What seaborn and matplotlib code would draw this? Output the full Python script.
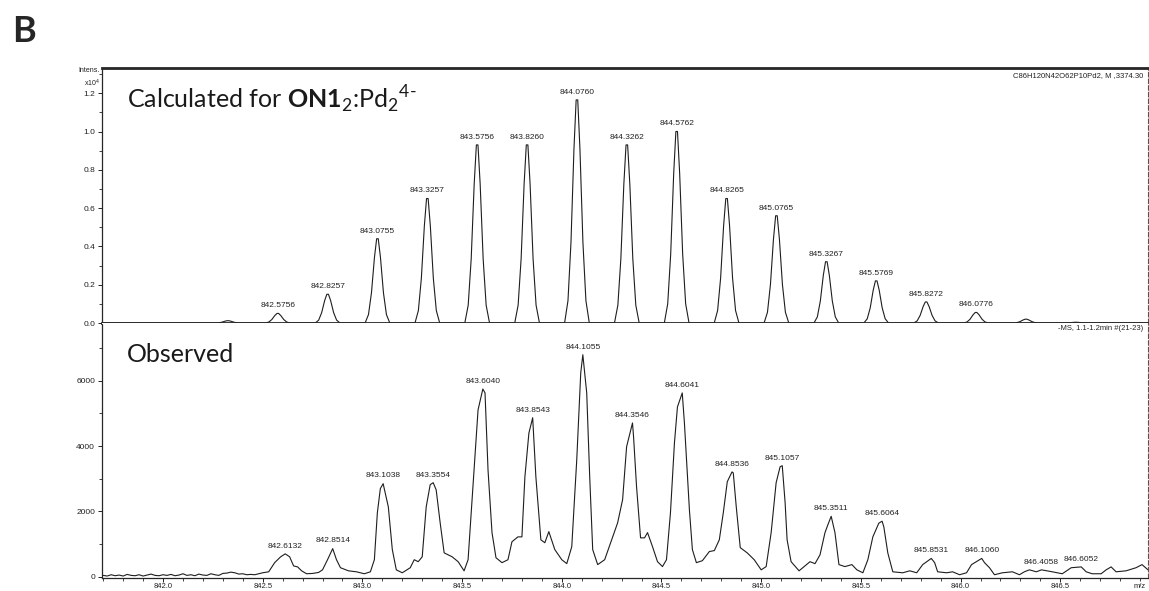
import pandas as pd
import matplotlib
matplotlib.use("Agg")
import matplotlib.pyplot as plt
import seaborn as sns
from matplotlib.ticker import MultipleLocator

# calculated isotope pattern (intensity in 1e4)
calc_mz = [842.3254, 842.5756, 842.8257, 843.0755, 843.3257, 843.5756, 843.8260, 844.0760, 844.3262,
           844.5762, 844.8265, 845.0765, 845.3267, 845.5769, 845.8272, 846.0776, 846.3280, 846.5780]
calc_int = [0.012, 0.05, 0.15, 0.44, 0.65, 0.93, 0.93, 1.165, 0.93,
            1.0, 0.65, 0.56, 0.32, 0.22, 0.11, 0.055, 0.02, 0.004]
calc_labels = ["", "842.5756", "842.8257", "843.0755", "843.3257", "843.5756", "843.8260", "844.0760",
               "844.3262", "844.5762", "844.8265", "845.0765", "845.3267", "845.5769", "845.8272",
               "846.0776", "", ""]
shape_dx = [-0.062, -0.045, -0.03, -0.015, -0.004, 0.004, 0.015, 0.03, 0.045, 0.062]
shape_fr = [0.0, 0.10, 0.36, 0.78, 1.0, 1.0, 0.78, 0.36, 0.10, 0.0]

# observed profile spectrum
obs_mz = [841.70, 841.72, 841.74, 841.76, 841.78, 841.80, 841.82, 841.84, 841.86, 841.88,
          841.90, 841.92, 841.94, 841.96, 841.98, 842.00, 842.02, 842.04, 842.06, 842.08,
          842.10, 842.12, 842.14, 842.16, 842.18, 842.20, 842.22, 842.24, 842.26, 842.28,
          842.30, 842.32, 842.34, 842.36, 842.38, 842.40, 842.42, 842.44, 842.46, 842.48,
          842.50, 842.53, 842.56, 842.59, 842.613, 842.635, 842.655, 842.675, 842.695, 842.72,
          842.75, 842.78, 842.80, 842.825, 842.851, 842.87, 842.89, 842.93, 842.97, 843.01,
          843.04, 843.06, 843.075, 843.09, 843.104, 843.13, 843.15, 843.17, 843.20, 843.24,
          843.26, 843.28, 843.30, 843.32, 843.34, 843.355, 843.37, 843.39, 843.41, 843.45,
          843.48, 843.51, 843.53, 843.55, 843.58, 843.604, 843.615, 843.63, 843.65, 843.67,
          843.70, 843.73, 843.75, 843.78, 843.80, 843.815, 843.835, 843.854, 843.87, 843.895,
          843.915, 843.935, 843.965, 844.00, 844.025, 844.05, 844.075, 844.095, 844.1055, 844.125,
          844.14, 844.155, 844.18, 844.215, 844.25, 844.28, 844.305, 844.325, 844.3546, 844.36,
          844.375, 844.395, 844.415, 844.43, 844.455, 844.48, 844.505, 844.525, 844.545, 844.565,
          844.58, 844.6041, 844.615, 844.64, 844.655, 844.675, 844.705, 844.74, 844.765, 844.79,
          844.81, 844.83, 844.8536, 844.86, 844.875, 844.895, 844.93, 844.965, 845.00, 845.025,
          845.05, 845.075, 845.095, 845.1057, 845.12, 845.13, 845.15, 845.19, 845.245, 845.27,
          845.295, 845.32, 845.335, 845.3511, 845.37, 845.39, 845.42, 845.455, 845.48, 845.51,
          845.535, 845.56, 845.59, 845.6064, 845.615, 845.635, 845.66, 845.71, 845.745, 845.78,
          845.81, 845.8531, 845.87, 845.885, 845.93, 845.96, 845.995, 846.03, 846.055, 846.106,
          846.12, 846.145, 846.17, 846.21, 846.26, 846.295, 846.32, 846.345, 846.38, 846.4058,
          846.46, 846.51, 846.555, 846.6052, 846.63, 846.66, 846.705, 846.73, 846.755, 846.78,
          846.83, 846.88, 846.91, 846.94]
obs_int = [40, 20, 60, 30, 50, 20, 70, 40, 30, 60,
           20, 50, 80, 40, 30, 60, 40, 70, 30, 50,
           90, 40, 60, 30, 80, 50, 40, 90, 60, 40,
           100, 110, 140, 120, 80, 90, 60, 70, 60, 90,
           120, 150, 430, 610, 700, 610, 330, 300, 180, 90,
           100, 130, 210, 520, 860, 520, 275, 180, 150, 90,
           150, 520, 1960, 2700, 2850, 2140, 830, 210, 120, 275,
           520, 460, 610, 2140, 2820, 2880, 2660, 1650, 730, 610,
           460, 180, 520, 2360, 5110, 5750, 5630, 3270, 1350, 580,
           430, 520, 1070, 1220, 1220, 3060, 4400, 4870, 3060, 1130,
           1040, 1380, 830, 520, 400, 920, 3580, 6240, 6800, 5630,
           3060, 830, 370, 520, 1130, 1650, 2360, 3980, 4710, 4280,
           2750, 1190, 1190, 1350, 920, 460, 310, 520, 1960, 4100,
           5200, 5630, 4710, 2050, 830, 430, 490, 770, 800, 1130,
           1960, 2910, 3210, 3180, 2140, 890, 730, 520, 210, 310,
           1350, 2880, 3370, 3400, 2270, 1130, 460, 180, 460, 400,
           670, 1350, 1600, 1850, 1350, 370, 310, 370, 210, 120,
           520, 1220, 1640, 1700, 1530, 730, 150, 120, 180, 120,
           370, 560, 430, 150, 120, 150, 60, 120, 370, 560,
           430, 275, 60, 120, 150, 60, 150, 210, 150, 210,
           150, 90, 275, 300, 150, 90, 90, 210, 300, 150,
           180, 275, 370, 210]
obs_peaks = [842.6132, 842.8514, 843.1038, 843.3554, 843.6040, 843.8543, 844.1055, 844.3546,
             844.6041, 844.8536, 845.1057, 845.3511, 845.6064, 845.8531, 846.1060, 846.4058, 846.6052]
obs_peak_int = [700, 860, 2850, 2880, 5750, 4870, 6800, 4710,
                5630, 3210, 3400, 1850, 1700, 560, 560, 210, 300]

# build calculated profile from peaks and profile shape
cx, cy = [], []
for m, h in zip(calc_mz, calc_int):
    for dx, fr in zip(shape_dx, shape_fr):
        cx.append(m + dx)
        cy.append(h * fr)
calc_df = pd.DataFrame({"mz": [841.69] + cx + [846.95], "intens": [0.0] + cy + [0.0]})
obs_df = pd.DataFrame({"mz": obs_mz, "intens": obs_int})

sns.set_style("white")
plt.rcParams["font.family"] = ["Liberation Sans", "DejaVu Sans"]
plt.rcParams["mathtext.fontset"] = "custom"
plt.rcParams["mathtext.rm"] = "Lato"
plt.rcParams["mathtext.bf"] = "Lato:bold"

W, H = 1149, 591
fig = plt.figure(figsize=(W / 100, H / 100), dpi=100)
left, right = 102 / W, 1148 / W
ax1 = fig.add_axes([left, 1 - 323 / H, right - left, (323 - 68) / H])
ax2 = fig.add_axes([left, 1 - 578 / H, right - left, (578 - 323) / H], sharex=ax1)

lc = "#1e1e1e"
sns.lineplot(data=calc_df, x="mz", y="intens", ax=ax1, color=lc, lw=0.8, sort=False, estimator=None)
sns.lineplot(data=obs_df, x="mz", y="intens", ax=ax2, color=lc, lw=0.8, sort=False, estimator=None)

ax1.set_xlim(841.694, 846.94)
ax1.set_ylim(0, 1.3316)
ax2.set_ylim(-40, 7772)

lab_kw = dict(ha="center", va="bottom", fontsize=6, color="#222222", textcoords="offset points")
for m, h, t in zip(calc_mz, calc_int, calc_labels):
    if t:
        ax1.annotate(t, (m, h), xytext=(0, 3), **lab_kw)
for m, h in zip(obs_peaks, obs_peak_int):
    ax2.annotate(f"{m:.4f}", (m, h), xytext=(0, 3), **lab_kw)

for ax in (ax1, ax2):
    ax.set_xlabel("")
    ax.set_ylabel("")
    ax.spines["left"].set_linestyle((0, (1, 1)))
    ax.spines["left"].set_linewidth(0.9)
    ax.spines["right"].set_linestyle((0, (4, 2)))
    ax.spines["right"].set_color("#555555")
    ax.spines["right"].set_linewidth(0.8)
    ax.tick_params(axis="y", which="major", direction="out", length=3, width=0.7,
                   labelsize=6, colors="#222222", pad=2, left=True)
    ax.tick_params(axis="y", which="minor", direction="out", length=2, width=0.6, left=True)

ax1.spines["top"].set_linewidth(2.0)
ax1.spines["bottom"].set_linewidth(2.0)
ax1.yaxis.set_major_locator(MultipleLocator(0.2))
ax1.yaxis.set_minor_locator(MultipleLocator(0.1))
ax1.yaxis.set_major_formatter(plt.FuncFormatter(lambda v, p: f"{v:.1f}"))
ax1.tick_params(axis="x", which="both", bottom=False, labelbottom=False)

ax2.spines["top"].set_visible(False)
ax2.spines["bottom"].set_linestyle((0, (1, 1)))
ax2.spines["bottom"].set_linewidth(0.9)
ax2.set_yticks([0, 2000, 4000, 6000])
ax2.yaxis.set_minor_locator(MultipleLocator(1000))
ax2.xaxis.set_major_locator(MultipleLocator(0.5))
ax2.xaxis.set_minor_locator(MultipleLocator(0.1))
ax2.xaxis.set_major_formatter(plt.FuncFormatter(lambda v, p: f"{v:.1f}"))
ax2.tick_params(axis="x", which="major", direction="out", length=3, width=0.7,
                labelsize=5.5, colors="#222222", pad=0.5, bottom=True)
ax2.tick_params(axis="x", which="minor", direction="out", length=2.5, width=0.6, bottom=True)

fig.text(127 / W, 1 - 108 / H, r"Calculated for $\mathbf{ON1}_{2}$:Pd$_{2}$$^{4\text{-}}$",
         fontsize=18, family="Lato", color="#1a1a1a", ha="left", va="baseline")
fig.text(127 / W, 1 - 362 / H, "Observed", fontsize=18, family="Lato", color="#1a1a1a",
         ha="left", va="baseline")
fig.text(12 / W, 1 - 42 / H, "B", fontsize=26, family="Lato", fontweight="bold", ha="left", va="baseline")
fig.text(100 / W, 1 - 71 / H, "Intens.", fontsize=5, ha="right", va="center", color="#222222")
fig.text(100 / W, 1 - 83 / H, r"x10$^{4}$", fontsize=5, ha="right", va="center", color="#222222")
fig.text(1143 / W, 1 - 76 / H, "C86H120N42O62P10Pd2, M ,3374.30", fontsize=5.5, ha="right",
         va="center", color="#222222")
fig.text(1143 / W, 1 - 329 / H, "-MS, 1.1-1.2min #(21-23)", fontsize=5.5, ha="right",
         va="center", color="#222222")
fig.text(1140 / W, 1 - 586 / H, "m/z", fontsize=5.5, ha="center", va="center", color="#222222")

fig.savefig("out.png", dpi=100)
